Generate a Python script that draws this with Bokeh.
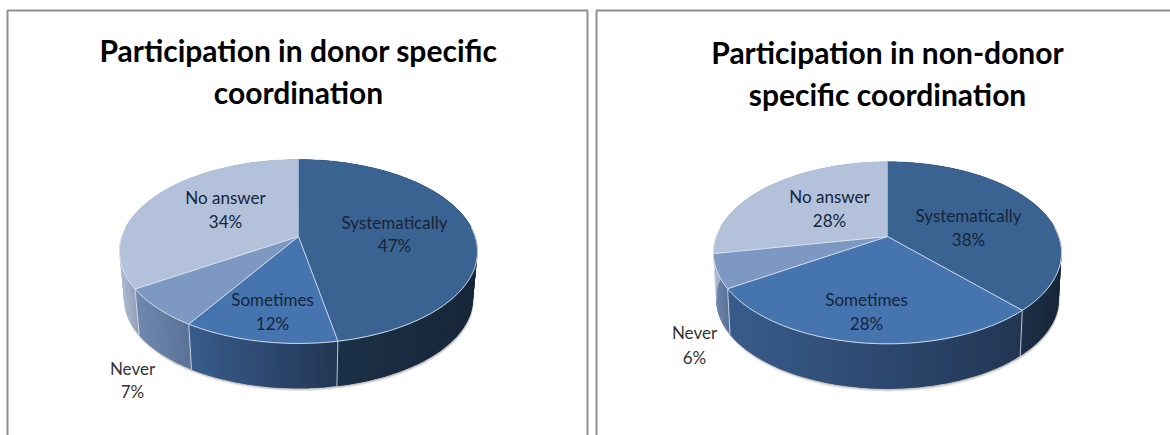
import math

from bokeh.core.properties import value
from bokeh.embed import file_html
from bokeh.layouts import row
from bokeh.models import Range1d
from bokeh.plotting import figure
from bokeh.resources import INLINE

# Survey answers, in drawing order clockwise from twelve o'clock
categories = ["Systematically", "Sometimes", "Never", "No answer"]
donor_values = [47, 12, 7, 34]
non_donor_values = [38, 28, 6, 28]
donor_title = "Participation in donor specific\ncoordination"
non_donor_title = "Participation in non-donor\nspecific coordination"

TOP_COLORS = ["#3b6391", "#4674ae", "#7c98c3", "#b3c1da"]
# Wall shading per slice: colour at its left end, colour at its right end
WALL_COLORS = [
    ((27, 48, 72), (23, 38, 56)),
    ((56, 92, 140), (34, 54, 84)),
    ((112, 136, 174), (90, 114, 150)),
    ((172, 184, 206), (146, 160, 186)),
]
EDGE = "#dfe6ef"
FONT = "Lato"


def project(theta, g, lower=False):
    """Perspective view of a point on the disc rim, theta clockwise from the top."""
    u, v = math.sin(theta), math.cos(theta)
    den = 1 + g["persp"] * v
    x, y = g["rx"] * u / den, g["ry"] * v / den
    if lower:
        return g["cx"] + x * g["shrink"], g["cy"] - y * g["shrink"] + g["drop"]
    return g["cx"] + x, g["cy"] - y


def mix(a, b, t):
    return "#%02x%02x%02x" % tuple(round(a[i] + (b[i] - a[i]) * t) for i in range(3))


def draw_pie(p, values, g):
    total = sum(values)
    bounds = [0.0]
    for v in values:
        bounds.append(bounds[-1] + v / total * 2 * math.pi)

    # Soft shadow hugging the underside
    ring = [i / 180 * math.pi for i in range(361)]
    for grow, alpha in ((3.0, 0.10), (2.0, 0.16), (1.0, 0.22)):
        pts = [project(t, g, lower=True) for t in ring]
        p.patch([q[0] + 0.6 for q in pts], [q[1] + grow for q in pts],
                fill_color="#555555", fill_alpha=alpha, line_color=None)

    # Side wall as overlapping strips, so the shade runs left to right without seams
    for k in range(len(values)):
        a, b = bounds[k], bounds[k + 1]
        n = max(2, int((b - a) / math.radians(2.0)))
        angles = [a + (b - a) * i / n for i in range(n + 1)]
        lo = [project(t, g, lower=True) for t in angles]
        up = [project(t, g) for t in angles]
        visible = [q[0] for t, q in zip(angles, up) if math.cos(t) < 0.25]
        xmin, xmax = min(visible), max(visible)
        for i in range(n):
            j = min(i + 2, n)
            mid = (up[i][0] + up[i + 1][0]) / 2
            t = min(1, max(0, (mid - xmin) / max(1, xmax - xmin)))
            col = mix(*WALL_COLORS[k], t)
            xs = [q[0] for q in up[i:j + 1]] + [q[0] for q in reversed(lo[i:j + 1])]
            ys = [q[1] for q in up[i:j + 1]] + [q[1] for q in reversed(lo[i:j + 1])]
            p.patch(xs, ys, fill_color=col, line_color=None)

    # Pale seams where the slices meet on the wall
    for t in bounds[:-1]:
        if math.cos(t) < 0.1:
            u, l = project(t, g), project(t, g, lower=True)
            p.line([u[0], l[0]], [u[1], l[1]], line_color=EDGE, line_width=1, line_alpha=0.8)

    # Top face
    for k in range(len(values)):
        a, b = bounds[k], bounds[k + 1]
        n = max(2, int((b - a) / math.radians(1.0)))
        pts = [project(a + (b - a) * i / n, g) for i in range(n + 1)]
        xs = [g["cx"]] + [q[0] for q in pts]
        ys = [g["cy"]] + [q[1] for q in pts]
        p.patch(xs, ys, fill_color=TOP_COLORS[k], line_color=TOP_COLORS[k], line_width=0.5)

    # Pale rim along the front, and spokes between the slices
    front = [t for t in ring if math.cos(t) < 0.12]
    pts = [project(t, g) for t in front]
    p.line([q[0] for q in pts], [q[1] for q in pts], line_color=EDGE, line_width=1, line_alpha=0.9)
    for t in bounds[1:-1]:
        q = project(t, g)
        p.line([g["cx"], q[0]], [g["cy"], q[1]], line_color=EDGE, line_width=1, line_alpha=0.9)


def panel(width, x0, values, title, title_x, title_ys, g, spots, frame):
    p = figure(width=width, height=435, output_backend="svg", toolbar_location=None,
               x_range=Range1d(x0, x0 + width), y_range=Range1d(435, 0),
               min_border=0, outline_line_color=None, background_fill_color="white")
    p.axis.visible = False
    p.grid.visible = False

    p.line(frame[0], frame[1], line_color="#8f8f8f", line_width=2)
    draw_pie(p, values, g)

    for line, y in zip(title.split("\n"), title_ys):
        p.text([title_x], [y], text=[line], text_font=value(FONT), text_font_style="bold",
               text_font_size="30px", text_align="center", text_baseline="middle",
               text_color="#000000")

    for cat, val, (x, y1, y2, col) in zip(categories, values, spots):
        p.text([x, x], [y1, y2], text=[cat, f"{val}%"], text_font=value(FONT),
               text_font_size="17px", text_align="center", text_baseline="middle",
               text_color=col)
    return p


left_geom = dict(cx=298, cy=236, rx=176.6, ry=89.5, persp=0.163, shrink=0.975, drop=47.5)
right_geom = dict(cx=887, cy=236, rx=171.2, ry=88.1, persp=0.179, shrink=0.985, drop=46.5)

# Label centres: x, first line y, second line y, colour
left_spots = [(394, 222, 245, "#14253c"), (272, 299, 323, "#14253c"),
              (132, 368, 391, "#333333"), (225, 197, 221, "#14253c")]
right_spots = [(968, 215, 239, "#14253c"), (866, 299, 323, "#14253c"),
               (694, 332, 357, "#333333"), (829, 196, 220, "#14253c")]

left = panel(591, 0, donor_values, donor_title, 298, (49, 91), left_geom, left_spots,
             ([7, 7, 587, 587], [435, 10, 10, 435]))
right = panel(579, 591, non_donor_values, non_donor_title, 887, (51, 93), right_geom, right_spots,
              ([596, 596, 1170], [435, 10, 10]))

layout = row(left, right, spacing=0)
open("out.html", "w").write(file_html(layout, INLINE))
